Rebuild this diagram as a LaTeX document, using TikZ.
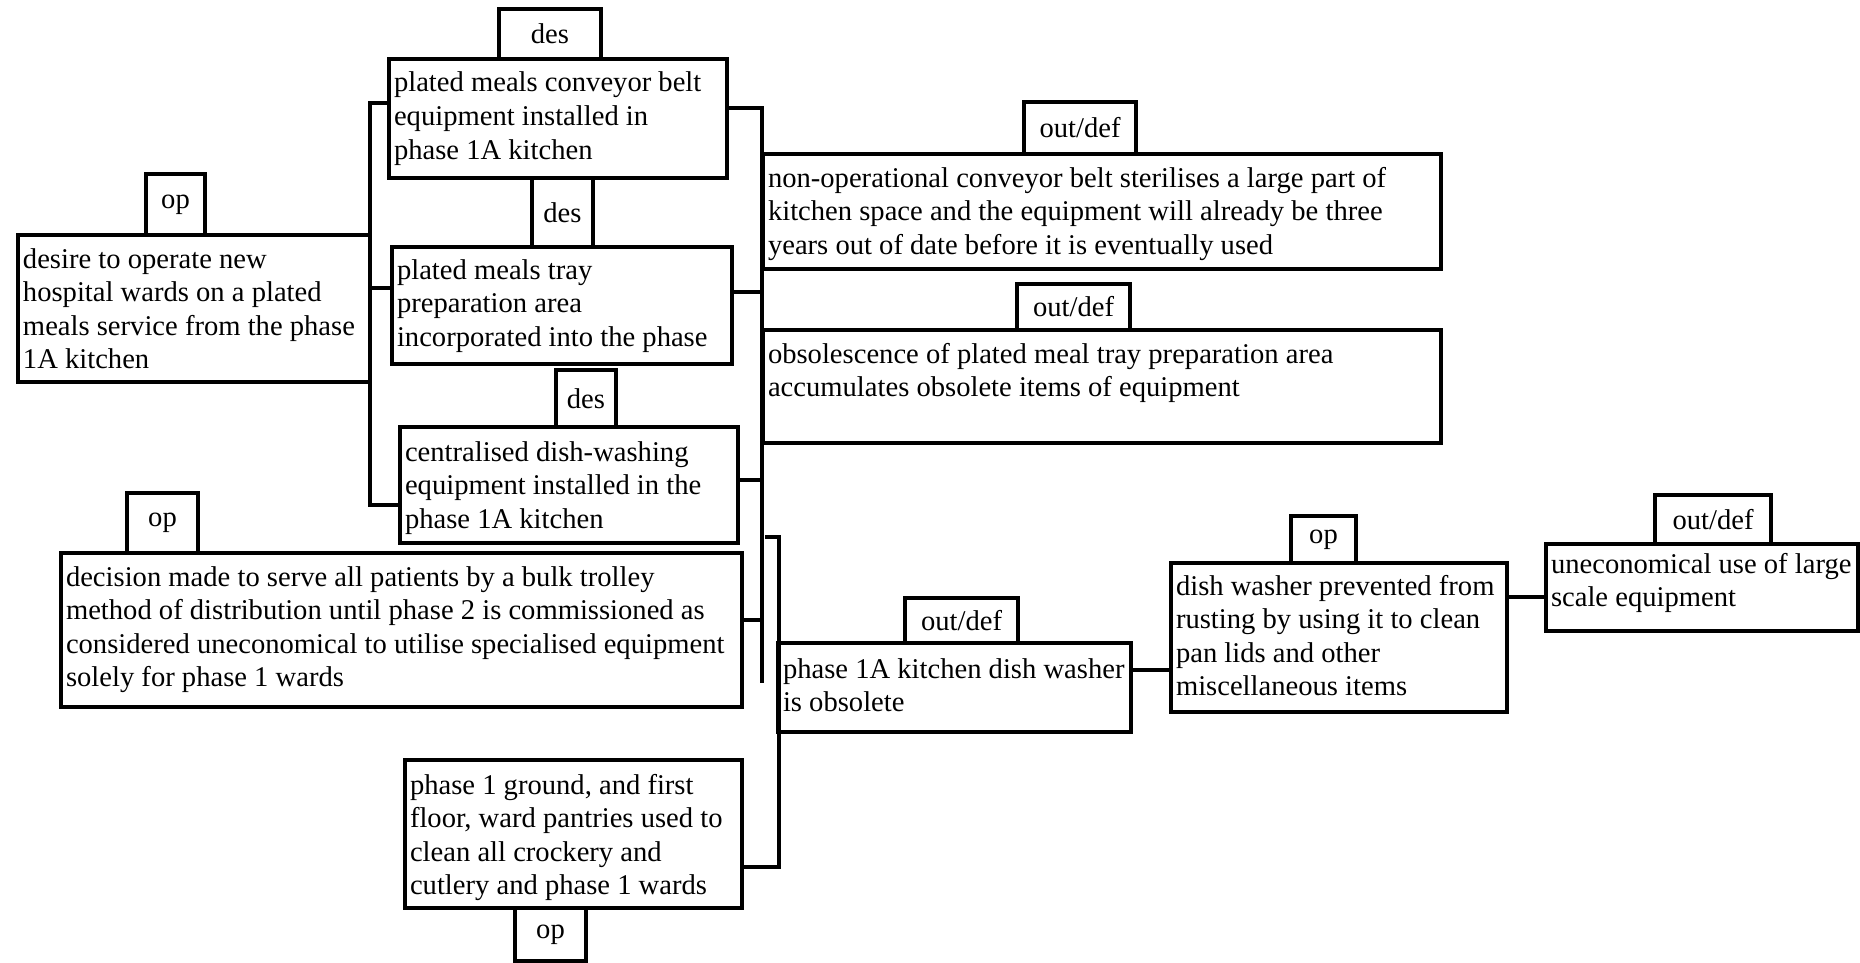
\documentclass[tikz,border=0pt]{standalone}
\usepackage{fontspec}
\setmainfont{Liberation Serif}
\usetikzlibrary{calc}

\tikzset{
  frame/.style={draw=black, line width=3.3pt, inner sep=0pt, outer sep=0pt},
  body/.style={anchor=north west, inner sep=0pt, outer sep=0pt, align=left,
               font=\fontsize{28.6}{33.5}\selectfont},
  tag/.style={frame, font=\fontsize{28.6}{33.5}\selectfont},
  wire/.style={draw=black, line width=3.3pt, line join=miter},
}

% text panel: name, x1, y1, x2, y2, first baseline below top, text
\newcommand\panel[7]{%
  \node[frame, minimum width={(#4-#2)*1pt}, minimum height={(#5-#3)*1pt}]
    (#1) at ({(#2+#4)/2},{(#3+#5)/2}) {};
  \node[body] (#1-text) at ($(#1.north west)+(5,#6-21)$) {\rule{0pt}{21pt}#7};
}
% small category box: name, x1, y1, x2, y2, text
\newcommand\tagbox[6]{%
  \node[tag, minimum width={(#4-#2)*1pt}, minimum height={(#5-#3)*1pt}]
    (#1) at ({(#2+#4)/2},{(#3+#5)/2}) {#6};
}

\begin{document}
\begin{tikzpicture}[x=1pt, y=-1pt]
\useasboundingbox (0,0) rectangle (1860,963);

% design decisions
\panel{belt}{389}{59}{727}{178}{33}{plated meals conveyor belt\\equipment installed in\\phase 1A kitchen}
\panel{tray}{392}{247}{732}{364}{32}{plated meals tray\\preparation area\\incorporated into the phase}
\panel{wash}{400}{427}{738}{543}{34}{centralised dish-washing\\equipment installed in the\\phase 1A kitchen}
\tagbox{des1}{499}{9}{601}{59}{des}
\tagbox{des2}{532}{178}{593}{247}{des}
\tagbox{des3}{556}{370}{616}{427}{des}

% operational decisions
\panel{desire}{18}{235}{370}{382}{33}{desire to operate new\\hospital wards on a plated\\meals service from the phase\\1A kitchen}
\tagbox{op1}{146}{174}{205}{235}{op}
\panel{bulk}{61}{553}{742}{707}{33}{decision made to serve all patients by a bulk trolley\\method of distribution until phase 2 is commissioned as\\considered uneconomical to utilise specialised equipment\\solely for phase 1 wards}
\tagbox{op2}{127}{493}{198}{553}{op}
\panel{pantry}{405}{760}{742}{908}{34}{phase 1 ground, and first\\floor, ward pantries used to\\clean all crockery and\\cutlery and phase 1 wards}
\tagbox{op5}{515}{908}{586}{961}{op}

% outcomes / defects
\panel{sterile}{763}{154}{1441}{269}{33}{non-operational conveyor belt sterilises a large part of\\kitchen space and the equipment will already be three\\years out of date before it is eventually used}
\tagbox{od1}{1024}{102}{1136}{154}{out/def}
\panel{obsolete}{763}{330}{1441}{443}{33}{obsolescence of plated meal tray preparation area\\accumulates obsolete items of equipment}
\tagbox{od2}{1017}{284}{1130}{330}{out/def}
\panel{washer}{778}{643}{1131}{732}{35}{phase 1A kitchen dish washer\\is obsolete}
\tagbox{od3}{905}{598}{1018}{643}{out/def}
\panel{rust}{1171}{563}{1507}{712}{32}{dish washer prevented from\\rusting by using it to clean\\pan lids and other\\miscellaneous items}
\tagbox{op4}{1291}{516}{1356}{563}{op}
\panel{scale}{1546}{544}{1858}{631}{29}{uneconomical use of large\\scale equipment}
\tagbox{od4}{1655}{495}{1771}{544}{out/def}

% junction points of the brackets
\coordinate (lA) at (370,103);
\coordinate (lB) at (370,288);
\coordinate (lC) at (370,505);
\coordinate (rA) at (762,108);
\coordinate (rB) at (762,292);
\coordinate (rC) at (762,480);
\coordinate (rD) at (762,620);
\coordinate (rE) at (762,683);
\coordinate (s0) at (765,537);
\coordinate (s1) at (779,537);
\coordinate (sP) at (779,867);
\coordinate (hW) at (0,670);
\coordinate (hR) at (0,597);

% left bracket: desire -> design decisions
\draw[wire] (belt.west |- lA) -- (lA) -- (lC) -- (wash.west |- lC);
\draw[wire] (tray.west |- lB) -- (lB);
% right bracket: design decisions -> outcomes
\draw[wire] (belt.east |- rA) -- (rA) -- (rE);
\draw[wire] (tray.east |- rB) -- (rB);
\draw[wire] (wash.east |- rC) -- (rC);
\draw[wire] (bulk.east |- rD) -- (rD);
% second bracket: pantries -> dish washer outcome
\draw[wire] (s0) -- (s1) -- (sP) -- (pantry.east |- sP);
% chain to the right
\draw[wire] (washer.east |- hW) -- (rust.west |- hW);
\draw[wire] (rust.east |- hR) -- (scale.west |- hR);
\end{tikzpicture}
\end{document}
